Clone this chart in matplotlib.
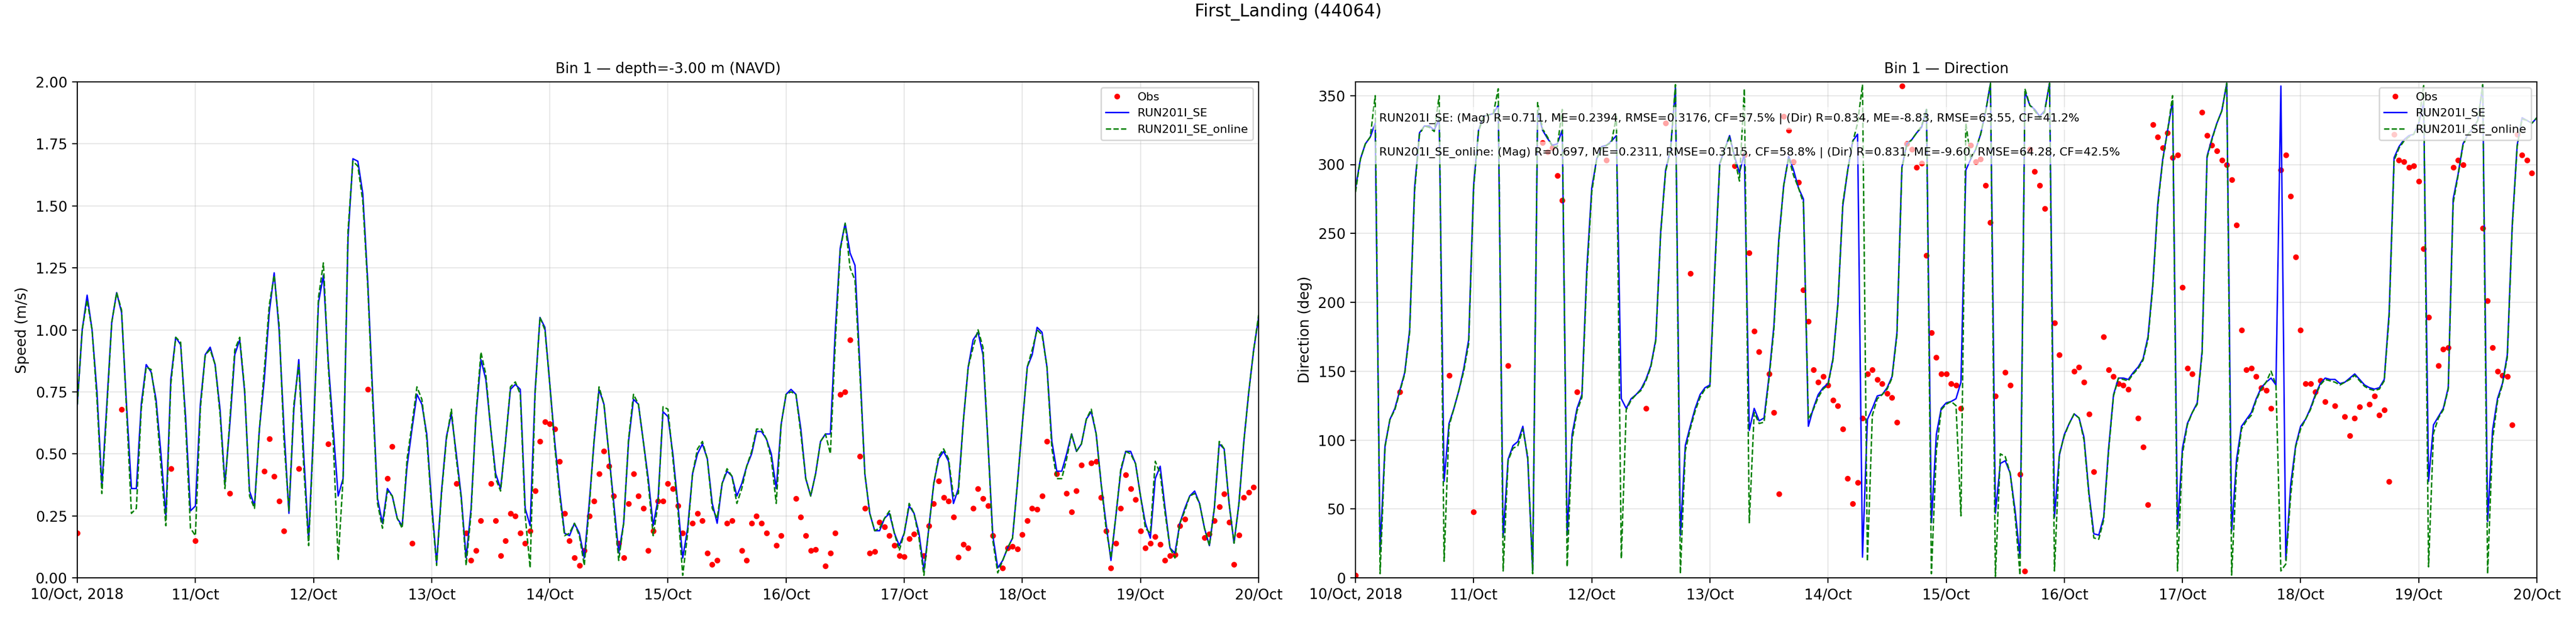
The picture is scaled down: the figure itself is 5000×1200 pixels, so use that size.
#!/usr/bin/env python
# -*- coding: utf-8 -*-

"""
Porownanie predkosci i kierunku pradu (Bin 1) z obserwacjami ADCP
dla stacji First_Landing (44064), 10-20 paz 2018.
"""

import numpy as np
import pandas as pd
import matplotlib
matplotlib.use("Agg")
import matplotlib.pyplot as plt
import matplotlib.dates as mdates
from matplotlib.ticker import FuncFormatter

STATION = "First_Landing (44064)"
START = "2018-10-10 00:00"
RUN_A = "RUN201I_SE"
RUN_B = "RUN201I_SE_online"

# --- model, co godzine (10/Oct 00:00 ... 20/Oct 00:00) ---
speed_run = [
    0.70, 1.00, 1.14, 1.00, 0.75, 0.37, 0.70, 1.03, 1.15, 1.07, 0.70, 0.36, 0.36, 0.70, 0.86, 0.83, 0.72, 0.50, 0.25, 0.80, 0.97, 0.94, 0.65, 0.27,
    0.29, 0.70, 0.90, 0.93, 0.86, 0.68, 0.38, 0.62, 0.90, 0.96, 0.75, 0.35, 0.29, 0.60, 0.80, 1.07, 1.23, 1.00, 0.60, 0.26, 0.68, 0.88, 0.50, 0.15,
    0.60, 1.11, 1.22, 0.87, 0.60, 0.33, 0.40, 1.37, 1.69, 1.68, 1.55, 1.20, 0.75, 0.32, 0.22, 0.36, 0.33, 0.24, 0.21, 0.45, 0.60, 0.74, 0.70, 0.58,
    0.30, 0.06, 0.35, 0.57, 0.66, 0.50, 0.33, 0.08, 0.28, 0.65, 0.88, 0.80, 0.60, 0.42, 0.36, 0.55, 0.76, 0.78, 0.76, 0.28, 0.21, 0.75, 1.05, 1.01,
    0.78, 0.55, 0.35, 0.18, 0.17, 0.22, 0.18, 0.08, 0.30, 0.55, 0.76, 0.70, 0.50, 0.30, 0.10, 0.22, 0.55, 0.72, 0.70, 0.55, 0.40, 0.21, 0.32, 0.67,
    0.65, 0.50, 0.30, 0.08, 0.20, 0.42, 0.50, 0.54, 0.48, 0.30, 0.22, 0.38, 0.43, 0.41, 0.33, 0.38, 0.45, 0.50, 0.59, 0.59, 0.56, 0.50, 0.36, 0.62,
    0.74, 0.76, 0.74, 0.60, 0.40, 0.33, 0.42, 0.55, 0.58, 0.58, 1.00, 1.33, 1.43, 1.31, 1.26, 0.85, 0.42, 0.26, 0.19, 0.19, 0.24, 0.26, 0.18, 0.13,
    0.18, 0.29, 0.26, 0.18, 0.03, 0.20, 0.38, 0.48, 0.51, 0.47, 0.30, 0.36, 0.63, 0.85, 0.96, 0.99, 0.90, 0.55, 0.17, 0.04, 0.07, 0.12, 0.16, 0.38,
    0.62, 0.85, 0.90, 1.01, 0.99, 0.85, 0.55, 0.43, 0.43, 0.50, 0.58, 0.51, 0.54, 0.64, 0.67, 0.58, 0.38, 0.22, 0.07, 0.25, 0.43, 0.51, 0.51, 0.46,
    0.33, 0.22, 0.16, 0.40, 0.45, 0.28, 0.12, 0.10, 0.22, 0.28, 0.33, 0.35, 0.30, 0.20, 0.13, 0.28, 0.54, 0.52, 0.30, 0.14, 0.30, 0.55, 0.75, 0.92,
    1.05,
]
speed_online = [
    0.70, 1.00, 1.12, 1.00, 0.72, 0.34, 0.68, 1.03, 1.15, 1.08, 0.68, 0.26, 0.28, 0.68, 0.85, 0.84, 0.70, 0.45, 0.21, 0.78, 0.97, 0.95, 0.62, 0.20,
    0.17, 0.68, 0.90, 0.92, 0.86, 0.66, 0.36, 0.64, 0.92, 0.97, 0.76, 0.33, 0.28, 0.60, 0.84, 1.10, 1.22, 1.02, 0.55, 0.27, 0.70, 0.86, 0.45, 0.13,
    0.58, 1.13, 1.27, 0.85, 0.55, 0.07, 0.40, 1.40, 1.68, 1.66, 1.52, 1.18, 0.72, 0.30, 0.20, 0.35, 0.33, 0.24, 0.20, 0.48, 0.62, 0.77, 0.72, 0.56,
    0.28, 0.05, 0.34, 0.56, 0.68, 0.48, 0.32, 0.05, 0.26, 0.66, 0.91, 0.82, 0.60, 0.40, 0.35, 0.55, 0.77, 0.79, 0.74, 0.25, 0.04, 0.74, 1.05, 1.00,
    0.78, 0.53, 0.33, 0.17, 0.18, 0.22, 0.17, 0.05, 0.28, 0.56, 0.77, 0.70, 0.50, 0.28, 0.07, 0.22, 0.56, 0.74, 0.70, 0.55, 0.38, 0.17, 0.30, 0.69,
    0.68, 0.48, 0.28, 0.01, 0.18, 0.42, 0.52, 0.55, 0.48, 0.28, 0.24, 0.38, 0.44, 0.41, 0.30, 0.36, 0.45, 0.51, 0.60, 0.60, 0.56, 0.48, 0.30, 0.62,
    0.74, 0.75, 0.74, 0.58, 0.40, 0.33, 0.42, 0.55, 0.58, 0.50, 0.95, 1.32, 1.43, 1.25, 1.20, 0.82, 0.42, 0.26, 0.19, 0.20, 0.24, 0.27, 0.18, 0.11,
    0.18, 0.30, 0.26, 0.16, 0.01, 0.20, 0.38, 0.49, 0.52, 0.48, 0.33, 0.34, 0.63, 0.85, 0.93, 1.00, 0.93, 0.55, 0.15, 0.02, 0.07, 0.12, 0.16, 0.38,
    0.62, 0.85, 0.92, 1.00, 0.98, 0.85, 0.52, 0.40, 0.40, 0.48, 0.58, 0.51, 0.54, 0.64, 0.68, 0.58, 0.38, 0.20, 0.08, 0.25, 0.44, 0.51, 0.50, 0.46,
    0.33, 0.20, 0.18, 0.47, 0.42, 0.26, 0.12, 0.08, 0.22, 0.27, 0.33, 0.34, 0.30, 0.20, 0.13, 0.28, 0.55, 0.52, 0.30, 0.14, 0.30, 0.55, 0.75, 0.92,
    1.06,
]
dir_run = [
    283, 304, 315, 320, 330, 20, 96, 115, 123, 136, 149, 180, 283, 323, 328, 328, 325, 333, 70, 112, 123, 136, 152, 173,
    285, 325, 335, 336, 337, 343, 30, 86, 96, 99, 110, 86, 5, 339, 325, 319, 314, 315, 325, 31, 104, 123, 133, 225,
    283, 304, 313, 314, 317, 321, 130, 123, 130, 133, 137, 144, 154, 173, 251, 296, 311, 356, 31, 96, 110, 123, 133, 138,
    140, 225, 301, 311, 321, 306, 294, 308, 107, 123, 114, 116, 146, 183, 246, 285, 306, 296, 283, 275, 110, 123, 133, 138,
    141, 159, 199, 270, 296, 317, 322, 15, 115, 123, 132, 133, 138, 146, 178, 298, 315, 318, 323, 327, 340, 40, 104, 123,
    127, 128, 130, 142, 296, 304, 311, 322, 338, 359, 47, 83, 85, 76, 49, 15, 353, 343, 340, 335, 339, 359, 44, 89,
    104, 112, 119, 116, 102, 62, 32, 31, 44, 94, 133, 145, 145, 144, 149, 153, 159, 175, 214, 272, 304, 325, 346, 36,
    94, 112, 120, 127, 165, 306, 319, 330, 339, 359, 34, 86, 110, 115, 120, 130, 138, 142, 145, 140, 357, 13, 68, 96,
    110, 115, 123, 133, 141, 145, 144, 144, 141, 142, 145, 148, 144, 140, 138, 137, 138, 144, 193, 305, 313, 318, 321, 322,
    330, 345, 70, 111, 117, 123, 138, 275, 293, 315, 322, 326, 332, 357, 41, 107, 130, 141, 162, 256, 314, 334, 332, 330,
    334,
]
dir_online = [
    280, 304, 315, 320, 350, 3, 95, 115, 122, 135, 148, 178, 280, 322, 328, 327, 324, 350, 12, 110, 123, 136, 150, 170,
    283, 324, 335, 336, 337, 355, 5, 85, 94, 96, 108, 88, 3, 345, 326, 320, 313, 313, 340, 8, 100, 121, 131, 220,
    280, 304, 312, 314, 316, 335, 14, 122, 129, 133, 136, 143, 153, 172, 250, 295, 310, 358, 3, 92, 108, 121, 131, 137,
    139, 222, 300, 311, 320, 305, 288, 355, 40, 120, 112, 113, 144, 180, 244, 285, 305, 292, 283, 272, 115, 122, 131, 137,
    140, 158, 198, 272, 296, 316, 330, 358, 12, 118, 130, 133, 137, 145, 176, 297, 314, 318, 323, 328, 340, 3, 92, 122,
    126, 128, 125, 45, 330, 304, 311, 322, 338, 359, 1, 90, 88, 76, 45, 2, 355, 343, 339, 334, 338, 359, 5, 90,
    103, 112, 119, 116, 100, 60, 29, 28, 42, 92, 132, 145, 144, 143, 148, 152, 158, 173, 212, 270, 303, 325, 350, 5,
    90, 111, 120, 126, 163, 305, 318, 330, 339, 359, 2, 80, 108, 114, 118, 129, 137, 142, 150, 140, 5, 10, 60, 95,
    108, 115, 122, 132, 140, 144, 143, 142, 140, 142, 144, 147, 143, 139, 137, 136, 137, 143, 190, 303, 312, 317, 320, 322,
    330, 358, 8, 105, 116, 122, 137, 272, 292, 314, 322, 326, 332, 358, 3, 100, 128, 140, 160, 254, 313, 333, 332, 330,
    334,
]

# --- obserwacje (godziny od startu) ---
obs_hour = [
    0, 9, 19, 24, 31, 38, 39, 40, 41, 42,
    45, 51, 59, 63, 64, 68, 77, 79, 80, 81,
    82] + list(range(84, 124)) + [
    125, 126, 127, 128, 129, 130,
    132, 133, 135, 136, 137, 138, 139, 140,
    142, 143, 146, 147, 148, 149, 150,
    152, 153, 154, 155, 156, 157,
    159, 160, 161, 162, 163, 164, 165, 166, 167, 168, 169, 170,
    172, 173, 174, 175, 176, 177, 178, 179, 180, 181, 182, 183, 184, 185, 186,
    188, 189, 190, 191, 192, 193, 194, 195, 196, 197,
    199, 201, 202, 203, 204,
    206, 207, 208, 209, 210, 211, 212, 213, 214, 215, 216, 217, 218, 219, 220, 221, 222, 223, 224, 225,
    229, 230, 231, 232, 233, 234, 235, 236, 237, 238, 239,
]
obs_speed = [
    0.18, 0.68, 0.44, 0.15, 0.34, 0.43, 0.56, 0.41, 0.31, 0.19,
    0.44, 0.54, 0.76, 0.40, 0.53, 0.14, 0.38, 0.18, 0.07, 0.11,
    0.23,
    0.38, 0.23, 0.09, 0.15, 0.26, 0.25, 0.18, 0.14, 0.19, 0.35,
    0.55, 0.63, 0.62, 0.60, 0.47, 0.26, 0.15, 0.08, 0.05, 0.11,
    0.25, 0.31, 0.42, 0.51, 0.45, 0.33, 0.14, 0.08, 0.30, 0.42,
    0.33, 0.28, 0.11, 0.19, 0.31, 0.31, 0.38, 0.36, 0.29, 0.18,
    0.22, 0.26, 0.23, 0.10, 0.055, 0.07,
    0.22, 0.23, 0.11, 0.07, 0.22, 0.25, 0.22, 0.18,
    0.13, 0.17, 0.32, 0.245, 0.17, 0.11, 0.115,
    0.047, 0.10, 0.18, 0.74, 0.75, 0.96,
    0.49, 0.28, 0.10, 0.105, 0.225, 0.205, 0.17, 0.13, 0.09, 0.086, 0.157, 0.176,
    0.09, 0.21, 0.30, 0.39, 0.325, 0.31, 0.245, 0.083, 0.134, 0.12, 0.28, 0.36, 0.32, 0.29, 0.17,
    0.04, 0.12, 0.127, 0.116, 0.175, 0.23, 0.28, 0.277, 0.33, 0.55,
    0.42, 0.34, 0.265, 0.35, 0.455,
    0.464, 0.47, 0.325, 0.19, 0.04, 0.14, 0.28, 0.415, 0.36, 0.316, 0.19, 0.12, 0.14, 0.167, 0.134, 0.07, 0.09, 0.093, 0.21, 0.237,
    0.163, 0.176, 0.23, 0.287, 0.338, 0.224, 0.054, 0.173, 0.325, 0.345, 0.365,
]
obs_dir = [
    2, 135, 147, 48, 154, 316, 309, 312, 292, 274,
    135, 303, 123, 330, np.nan, 221, 299, 307, 236, 179,
    164,
    148, 120, 61, 335, 325, 302, 287, 209, 186, 151,
    142, 146, 140, 129, 125, 108, 72, 54, 69, 116,
    148, 151, 144, 141, 134, 131, 113, 357, 315, 311,
    298, 301, 234, 178, 160, 148, 148, 141, 140, 123,
    314, 302, 304, 285, 258, 132,
    149, 140, 75, 5, 311, 295, 285, 268,
    185, 162, 150, 153, 142, 119, 77,
    175, 151, 146, 141, 140, 137,
    116, 95, 53, 329, 320, 312, 323, 305, 307, 211, 152, 148,
    338, 321, 314, 310, 303, 300, 289, 256, 180, 151, 152, 146, 138, 136, 123,
    296, 307, 277, 233, 180, 141, 141, 135, 143, 128,
    125, 117, 103, 116, 124,
    126, 132, 118, 122, 70, 322, 303, 302, 298, 299, 288, 239, 189, np.nan, 154, 166, 167, 298, 303, 300,
    254, 201, 167, 150, 147, 146, 111, 322, 307, 303, 294,
]

stats_lines = [
    "RUN201I_SE: (Mag) R=0.711, ME=0.2394, RMSE=0.3176, CF=57.5% | (Dir) R=0.834, ME=-8.83, RMSE=63.55, CF=41.2%",
    "RUN201I_SE_online: (Mag) R=0.697, ME=0.2311, RMSE=0.3115, CF=58.8% | (Dir) R=0.831, ME=-9.60, RMSE=64.28, CF=42.5%",
]


def date_label(x, pos):
    """10/Oct, 2018 na pierwszym znaczniku, potem tylko dzien/miesiac."""
    d = mdates.num2date(x)
    if pos == 0:
        return d.strftime("%d/%b, %Y")
    return d.strftime("%d/%b")


def style_time_axis(ax, t0, t1):
    ax.set_xlim(t0, t1)
    ax.xaxis.set_major_locator(mdates.DayLocator())
    ax.xaxis.set_major_formatter(FuncFormatter(date_label))
    ax.grid(True, alpha=0.3)


def main():
    t_model = pd.date_range(START, periods=len(speed_run), freq="h")
    t_obs = pd.Timestamp(START) + pd.to_timedelta(obs_hour, unit="h")
    assert len(obs_hour) == len(obs_speed) == len(obs_dir)

    fig, (ax1, ax2) = plt.subplots(1, 2, figsize=(25, 6), dpi=200)
    fig.subplots_adjust(left=0.03, right=0.9848, bottom=0.065, top=0.8675, wspace=0.082)
    fig.suptitle(STATION, fontsize=12, y=0.995)

    # predkosc
    ax1.plot(t_obs, obs_speed, "o", color="red", ms=3, label="Obs")
    ax1.plot(t_model, speed_run, "-", color="blue", lw=1.0, label=RUN_A)
    ax1.plot(t_model, speed_online, "--", color="green", lw=1.0, label=RUN_B)
    ax1.set_ylim(0, 2.0)
    ax1.set_ylabel("Speed (m/s)")
    ax1.set_title("Bin 1 \u2014 depth=-3.00 m (NAVD)", fontsize=10)
    style_time_axis(ax1, t_model[0], t_model[-1])
    ax1.legend(loc="upper right", fontsize=8)

    # kierunek
    ax2.plot(t_obs, obs_dir, "o", color="red", ms=3, label="Obs")
    ax2.plot(t_model, dir_run, "-", color="blue", lw=1.0, label=RUN_A)
    ax2.plot(t_model, dir_online, "--", color="green", lw=1.0, label=RUN_B)
    ax2.set_ylim(0, 360)
    ax2.set_ylabel("Direction (deg)")
    ax2.set_title("Bin 1 \u2014 Direction", fontsize=10)
    style_time_axis(ax2, t_model[0], t_model[-1])
    ax2.legend(loc="upper right", fontsize=8)

    for y, line in zip([0.926, 0.857], stats_lines):
        ax2.text(0.02, y, line, transform=ax2.transAxes, fontsize=8, va="center",
                 bbox=dict(facecolor="white", alpha=0.65, edgecolor="none"))

    fig.savefig("out.png", dpi=200)
    plt.close(fig)


if __name__ == "__main__":
    main()
